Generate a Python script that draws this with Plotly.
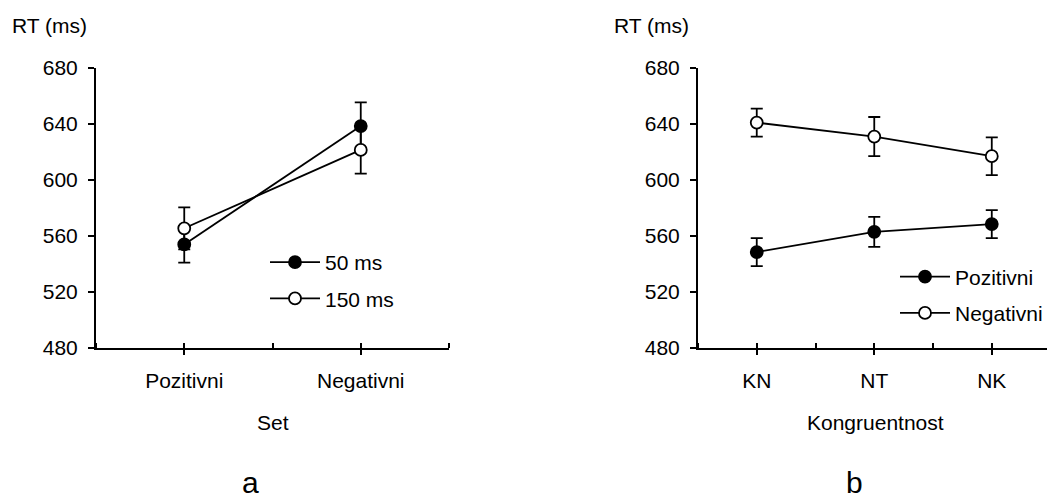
import plotly.graph_objects as go

# ---- data -------------------------------------------------------------
set_categories = ["Pozitivni", "Negativni"]
rt_50ms = [554, 638.5]
err_50ms = [13, 17]
rt_150ms = [565.5, 621.5]
err_150ms = [15, 17]

kongruentnost_categories = ["KN", "NT", "NK"]
rt_pozitivni = [548.5, 563, 568.5]
err_pozitivni = [10, 10.7, 10]
rt_negativni = [641, 631, 617]
err_negativni = [10, 14, 13.5]

y_ticks = [480, 520, 560, 600, 640, 680]

# ---- page geometry (pixels) -------------------------------------------
W, H = 1047, 500
FONT = "Liberation Sans, Arial, sans-serif"
FS = 21


def px_x(p):
    return p / W


def px_y(p):
    return 1 - p / H


left_dom = [px_x(96), px_x(449)]
right_dom = [px_x(698), 1.0]
y_dom = [px_y(348), px_y(68)]

fig = go.Figure()


def add_series(xs, ys, errs, name, fill, xa, ya, legend):
    fig.add_trace(go.Scatter(
        x=xs, y=ys, name=name, mode="lines+markers",
        xaxis=xa, yaxis=ya, legend=legend, legendgroup=name,
        line=dict(color="black", width=1.8),
        marker=dict(size=12, color=fill, line=dict(color="black", width=1.8)),
        error_y=dict(type="data", array=errs, visible=True,
                     color="black", thickness=1.8, width=6),
    ))


xs_left = list(range(len(set_categories)))
xs_right = list(range(len(kongruentnost_categories)))

add_series(xs_left, rt_50ms, err_50ms, "50 ms", "black", "x", "y", "legend")
add_series(xs_left, rt_150ms, err_150ms, "150 ms", "white", "x", "y", "legend")
add_series(xs_right, rt_pozitivni, err_pozitivni, "Pozitivni", "black", "x2", "y2", "legend2")
add_series(xs_right, rt_negativni, err_negativni, "Negativni", "white", "x2", "y2", "legend2")


def x_axis(dom, cats, rng, anchor):
    n = len(cats)
    half = [i * 0.5 - 0.5 for i in range(2 * n + 1)]
    return dict(
        domain=dom, anchor=anchor, range=rng, automargin=False,
        showline=True, linecolor="black", linewidth=2,
        showgrid=False, zeroline=False,
        tickmode="array", tickvals=list(range(n)), ticktext=cats,
        ticks="outside", ticklen=5, tickwidth=2, tickcolor="black",
        ticklabelstandoff=8,
        minor=dict(tickmode="array", tickvals=half, ticks="inside",
                   ticklen=5, tickwidth=2, tickcolor="black", showgrid=False),
        tickfont=dict(family=FONT, size=FS, color="black"),
        fixedrange=True,
    )


def y_axis(anchor):
    return dict(
        domain=y_dom, anchor=anchor, range=[480, 680], automargin=False,
        showline=True, linecolor="black", linewidth=2,
        showgrid=False, zeroline=False,
        tickmode="array", tickvals=y_ticks,
        ticks="outside", ticklen=6, tickwidth=2, tickcolor="black",
        ticklabelstandoff=6,
        tickfont=dict(family=FONT, size=FS, color="black"),
        fixedrange=True,
    )


def legend_box(x, y):
    return dict(
        x=x, y=y, xanchor="left", yanchor="middle",
        xref="paper", yref="paper",
        bgcolor="rgba(0,0,0,0)", borderwidth=0,
        font=dict(family=FONT, size=FS, color="black"),
        traceorder="grouped", tracegroupgap=6, itemwidth=50,
    )


txt = dict(family=FONT, size=FS, color="black")
annotations = [
    dict(text="RT (ms)", x=px_x(10), y=px_y(25), xanchor="left", yanchor="middle"),
    dict(text="RT (ms)", x=px_x(612), y=px_y(25), xanchor="left", yanchor="middle"),
    dict(text="Set", x=px_x(273), y=px_y(422), xanchor="center", yanchor="middle"),
    dict(text="Kongruentnost", x=px_x(875), y=px_y(422), xanchor="center", yanchor="middle"),
    dict(text="a", x=px_x(250), y=px_y(482), xanchor="center", yanchor="middle",
         font=dict(family=FONT, size=30, color="black")),
    dict(text="b", x=px_x(854), y=px_y(482), xanchor="center", yanchor="middle",
         font=dict(family=FONT, size=30, color="black")),
]
for a in annotations:
    a.update(xref="paper", yref="paper", showarrow=False)
    a.setdefault("font", txt)

fig.update_layout(
    width=W, height=H,
    margin=dict(l=0, r=0, t=0, b=0, autoexpand=False),
    paper_bgcolor="white", plot_bgcolor="white",
    font=dict(family=FONT, size=FS, color="black"),
    xaxis=x_axis(left_dom, set_categories, [-0.5, 1.5], "y"),
    yaxis=y_axis("x"),
    xaxis2=x_axis(right_dom, kongruentnost_categories, [-0.5, 2.47], "y2"),
    yaxis2=y_axis("x2"),
    legend=legend_box(px_x(265), px_y(280.5)),
    legend2=legend_box(px_x(895), px_y(295)),
    annotations=annotations,
    showlegend=True,
)

fig.write_html("out.html")
